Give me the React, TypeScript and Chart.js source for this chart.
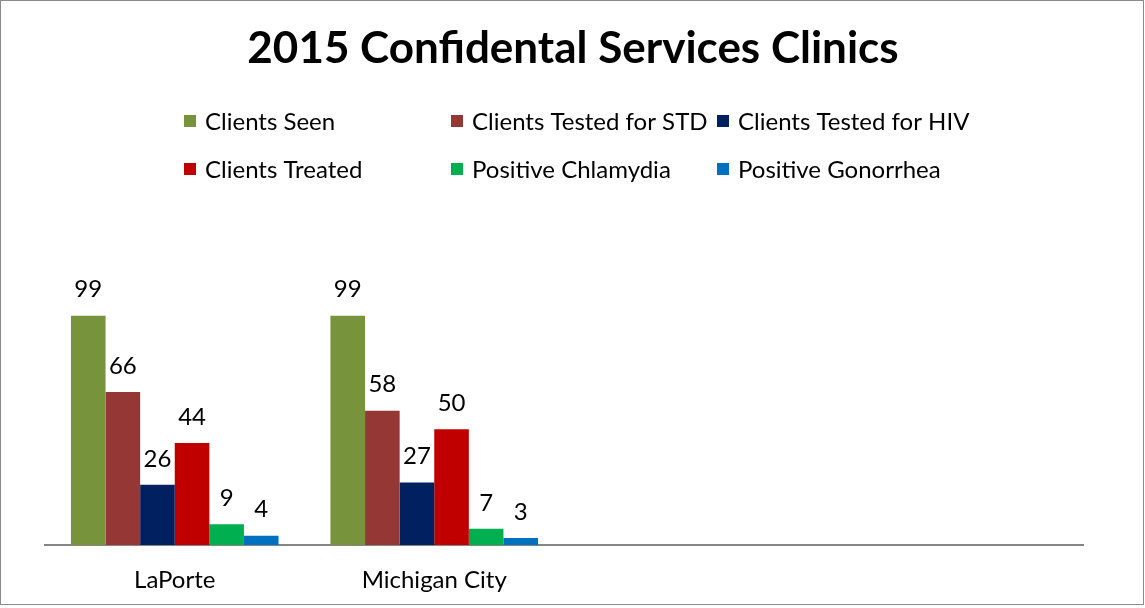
import React, { useEffect, useRef } from "react";
import { Chart, registerables } from "chart.js";

Chart.register(...registerables);

const categories = ["LaPorte", "Michigan City", "", ""];
const seriesNames = [
  "Clients Seen",
  "Clients Tested for STD",
  "Clients Tested for HIV",
  "Clients Treated",
  "Positive Chlamydia",
  "Positive Gonorrhea",
];
const clientsSeen = [99, 99, null, null];
const clientsTestedSTD = [66, 58, null, null];
const clientsTestedHIV = [26, 27, null, null];
const clientsTreated = [44, 50, null, null];
const positiveChlamydia = [9, 7, null, null];
const positiveGonorrhea = [4, 3, null, null];
const seriesColors = ["#77933C", "#953735", "#002060", "#C00000", "#00B050", "#0070C0"];
const titleText = "2015 Confidental Services Clinics";

const FONT = "Lato, 'Open Sans', sans-serif";

const decorPlugin = {
  id: "decor",
  afterDraw(chart: any) {
    const ctx = chart.ctx;
    ctx.save();
    // border
    ctx.strokeStyle = "#8a8a8a";
    ctx.lineWidth = 1;
    ctx.strokeRect(0.5, 0.5, 1143, 604);
    // title
    ctx.fillStyle = "#000";
    ctx.font = `bold 44px ${FONT}`;
    ctx.textAlign = "center";
    ctx.textBaseline = "middle";
    ctx.fillText(titleText, 573, 49);
    // legend
    const colX = [184, 451, 717];
    const rowY = [121, 169];
    ctx.font = `24px ${FONT}`;
    ctx.textAlign = "left";
    chart.data.datasets.forEach((ds: any, i: number) => {
      const x = colX[i % 3];
      const y = rowY[Math.floor(i / 3)];
      ctx.fillStyle = ds.backgroundColor;
      ctx.fillRect(x, y - 6, 12, 12);
      ctx.fillStyle = "#000";
      ctx.fillText(ds.label, x + 21, y + 1);
    });
    // data labels
    ctx.font = `24px ${FONT}`;
    ctx.textAlign = "center";
    ctx.textBaseline = "middle";
    ctx.fillStyle = "#000";
    chart.data.datasets.forEach((ds: any, i: number) => {
      const meta = chart.getDatasetMeta(i);
      meta.data.forEach((bar: any, j: number) => {
        const v = ds.data[j];
        if (v === null || v === undefined) return;
        ctx.fillText(String(v), bar.x, bar.y - 26);
      });
    });
    ctx.restore();
  },
};

export default function App() {
  const ref = useRef<HTMLCanvasElement>(null);
  useEffect(() => {
    const seriesData = [
      clientsSeen,
      clientsTestedSTD,
      clientsTestedHIV,
      clientsTreated,
      positiveChlamydia,
      positiveGonorrhea,
    ];
    const chart = new Chart(ref.current!, {
      type: "bar",
      data: {
        labels: categories,
        datasets: seriesData.map((d, i) => ({
          label: seriesNames[i],
          data: d,
          backgroundColor: seriesColors[i],
          borderWidth: 0,
          categoryPercentage: 0.8,
          barPercentage: 1.0,
        })),
      },
      options: {
        animation: false,
        responsive: false,
        devicePixelRatio: 1,
        layout: { padding: { top: 267, left: 45, right: 62, bottom: 0 } },
        plugins: {
          legend: { display: false },
          title: { display: false },
          tooltip: { enabled: false },
        },
        scales: {
          y: { display: false, min: 0, max: 120 },
          x: {
            grid: { display: false, drawTicks: false },
            border: { display: true, color: "#868686", width: 2 },
            ticks: {
              color: "#000",
              font: { family: FONT, size: 24 },
              padding: 21,
              maxRotation: 0,
            },
            afterFit(scale: any) {
              scale.height = 63;
            },
          },
        },
      },
      plugins: [decorPlugin],
    });
    return () => chart.destroy();
  }, []);
  return (
    <div style={{ position: "fixed", left: 0, top: 0, width: 1145, height: 608, background: "#fff" }}>
      <canvas ref={ref} width={1145} height={608} />
    </div>
  );
}
